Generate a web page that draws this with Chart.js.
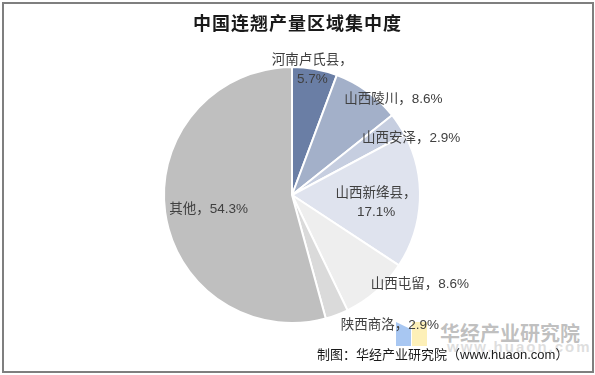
<!DOCTYPE html>
<html>
<head>
<meta charset="utf-8">
<script src="https://cdn.jsdelivr.net/npm/chart.js@4/dist/chart.umd.min.js"></script>
<style>
  html, body { margin: 0; padding: 0; background: #fff; }
  #wrap { position: relative; width: 595px; height: 375px; overflow: hidden; }
  #frame { position: absolute; left: 2px; top: 2px; width: 588px; height: 367px; border: 2px solid #7f7f7f; box-sizing: content-box; }
  #title { position: absolute; left: 0; top: 9px; width: 595px; text-align: center; font: bold 18px "Noto Sans CJK SC", sans-serif; color: #1a1a1a; letter-spacing: 1px; }
  #c { position: absolute; left: 0; top: 0; }
  .wm { position: absolute; font-family: "Noto Sans CJK SC", sans-serif; }
  #wm1 { left: 440px; top: 318px; font-size: 20px; font-weight: bold; color: rgba(150,150,150,0.6); }
  #wm2 { left: 447px; top: 338px; font-size: 15px; font-weight: bold; color: rgba(190,190,190,0.5); letter-spacing: 2px; font-family: "Liberation Sans", sans-serif; }
  #logoB { position: absolute; left: 396px; top: 322px; width: 15px; height: 24px; background: #a8c7f2; clip-path: polygon(0 0, 100% 30%, 100% 100%, 0 100%); }
  #logoY { position: absolute; left: 412px; top: 322px; width: 15px; height: 24px; background: #fdf0b8; }
  #src { position: absolute; left: 317px; top: 344px; font: 13px "Liberation Sans", "Noto Sans CJK SC", sans-serif; color: #1a1a1a; }
</style>
</head>
<body>
<div id="wrap">
  <div id="logoB"></div><div id="logoY"></div>
  <div class="wm" id="wm1">华经产业研究院</div>
  <div class="wm" id="wm2">www.huaon.com</div>
  <canvas id="c" width="595" height="375"></canvas>
  <div id="title">中国连翘产量区域集中度</div>
  <div id="src">制图：华经产业研究院（www.huaon.com）</div>
  <div id="frame"></div>
</div>
<script>
const categories = ["河南卢氏县", "山西陵川", "山西安泽", "山西新绛县", "山西屯留", "陕西商洛", "其他"];
const values = [5.7, 8.6, 2.9, 17.1, 8.6, 2.9, 54.3];
const valueLabels = ["5.7%", "8.6%", "2.9%", "17.1%", "8.6%", "2.9%", "54.3%"];
const sliceColors = ["#6a7ea5", "#a3b0c9", "#c6cee0", "#dfe3ee", "#eeeeee", "#dadada", "#bfbfbf"];
const labelBreak = [true, false, false, true, false, false, false];
const labelAngleShift = [-1, 10.7, 8, 2.7, -13.8, -16.5, -2];
const labelRadius = [0.99, 1.09, 1.03, 0.66, 1.22, 1.27, 0.66];

const labelPlugin = {
  id: 'sliceLabels',
  afterDatasetsDraw(chart) {
    const ctx = chart.ctx;
    const meta = chart.getDatasetMeta(0);
    ctx.save();
    ctx.font = '13.5px "Liberation Sans", "Noto Sans CJK SC", sans-serif';
    ctx.fillStyle = '#404040';
    ctx.textAlign = 'center';
    ctx.textBaseline = 'middle';
    meta.data.forEach((arc, i) => {
      const p = arc.getProps(['x', 'y', 'startAngle', 'endAngle', 'outerRadius'], true);
      const a = (p.startAngle + p.endAngle) / 2 + labelAngleShift[i] * Math.PI / 180;
      const r = p.outerRadius * labelRadius[i];
      const x = p.x + Math.cos(a) * r;
      const y = p.y + Math.sin(a) * r;
      if (labelBreak[i]) {
        ctx.fillText(categories[i] + '，', x, y - 9.5);
        ctx.fillText(valueLabels[i], x, y + 9.5);
      } else {
        ctx.fillText(categories[i] + '，' + valueLabels[i], x, y);
      }
    });
    ctx.restore();
  }
};

new Chart(document.getElementById('c'), {
  type: 'pie',
  data: {
    labels: categories,
    datasets: [{
      data: values,
      backgroundColor: sliceColors,
      borderColor: '#ffffff',
      borderWidth: 2
    }]
  },
  options: {
    responsive: false,
    animation: false,
    layout: { padding: { left: 163, right: 174, top: 66, bottom: 51 } },
    plugins: { legend: { display: false }, tooltip: { enabled: false }, title: { display: false } }
  },
  plugins: [labelPlugin]
});
</script>
</body>
</html>
